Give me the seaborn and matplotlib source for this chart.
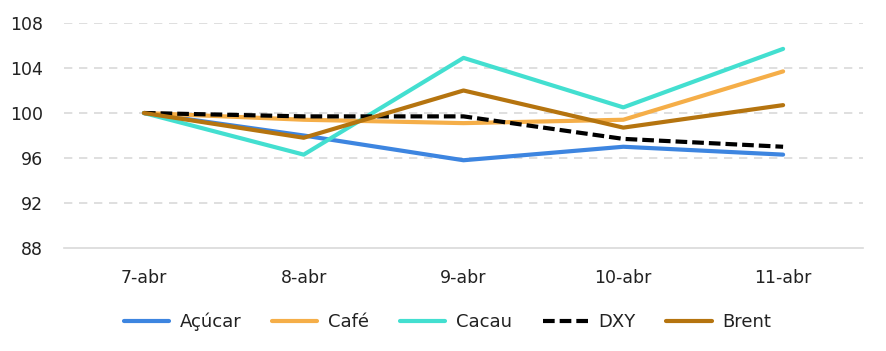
import matplotlib
matplotlib.use("Agg")
import matplotlib.pyplot as plt
import seaborn as sns
import pandas as pd

dates = ["7-abr", "8-abr", "9-abr", "10-abr", "11-abr"]
acucar = [100.0, 98.0, 95.8, 97.0, 96.3]
cafe = [100.0, 99.4, 99.1, 99.4, 103.7]
cacau = [100.0, 96.3, 104.9, 100.5, 105.7]
dxy = [100.0, 99.7, 99.7, 97.7, 97.0]
brent = [100.0, 97.8, 102.0, 98.7, 100.7]
yticks = [88, 92, 96, 100, 104, 108]

series = {"Açúcar": acucar, "Café": cafe, "Cacau": cacau, "DXY": dxy, "Brent": brent}
colors = {"Açúcar": "#3D85E0", "Café": "#F5AE48", "Cacau": "#43DFD0", "DXY": "#000000", "Brent": "#B5740F"}

rows = []
for name, vals in series.items():
    for i, (d, v) in enumerate(zip(dates, vals)):
        rows.append({"date": d, "x": i, "value": v, "serie": name})
df = pd.DataFrame(rows)

sns.set_theme(style="white")
plt.rcParams["font.family"] = ["DejaVu Sans"]

fig = plt.figure(figsize=(8.86, 3.51), dpi=100)
ax = fig.add_axes([64/886, 1-248/351, (863-64)/886, (248-23)/351])

for name in series:
    sub = df[df.serie == name]
    ls = (0, (2.8, 1.2)) if name == "DXY" else "-"
    sns.lineplot(data=sub, x="x", y="value", ax=ax, color=colors[name], lw=3.0,
                 linestyle=ls, label=name, solid_capstyle="round", dash_capstyle="butt")

ax.set_xlim(-0.5, 4.5)
ax.set_ylim(88, 108)
ax.set_yticks(yticks)
ax.set_yticklabels([str(t) for t in yticks], fontsize=12.5, color="#222222")
ax.set_xticks(range(len(dates)))
ax.set_xticklabels(dates, fontsize=12.5, color="#222222")
ax.tick_params(axis="y", length=0, pad=15)
ax.tick_params(axis="x", length=0, pad=15)
ax.set_xlabel("")
ax.set_ylabel("")
for t in yticks[1:]:
    ax.axhline(t, color="#D9D9D9", lw=1.2, ls=(0, (5, 4)), zorder=0)
for s in ["top", "right", "left"]:
    ax.spines[s].set_visible(False)
ax.spines["bottom"].set_color("#D9D9D9")
ax.spines["bottom"].set_linewidth(1.2)

leg = ax.legend(loc="upper center", bbox_to_anchor=(0.48, -0.215), ncol=5, frameon=False,
                fontsize=13, handlelength=2.5, handletextpad=0.6, columnspacing=1.7)
plt.setp(leg.get_texts(), color="#222222")

fig.savefig("out.png", dpi=100)
